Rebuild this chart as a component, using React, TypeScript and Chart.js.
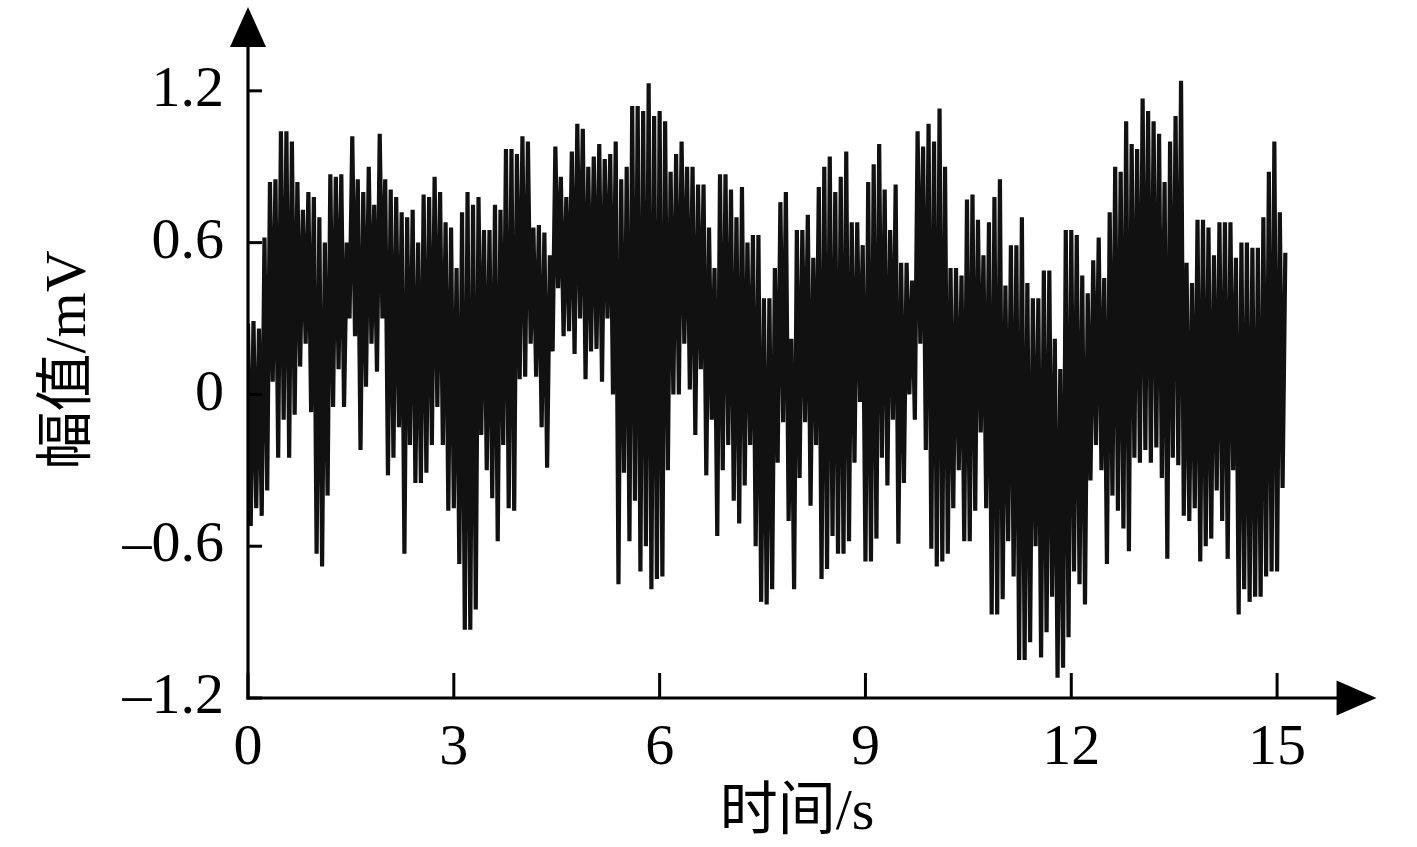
import React, { useEffect, useRef } from "react";
import { Chart, registerables } from "chart.js";

Chart.register(...registerables);

// sampling step of the recorded signal (s)
const SAMPLE_STEP = 0.04;

// amplitude samples (mV), one row per second
const amp0: number[] = [0.28, -0.52, 0.29, -0.45, 0.26, -0.48, 0.62, -0.38, 0.84, 0.05, 0.85, -0.25, 1.04, -0.1, 1.04, -0.25, 1.0, -0.08, 0.84, 0.11, 0.73, 0.2, 0.8, -0.07, 0.78];
const amp1: number[] = [-0.63, 0.7, -0.68, 0.6, -0.4, 0.87, -0.05, 0.86, 0.1, 0.87, -0.05, 0.6, 0.3, 1.02, 0.23, 0.85, -0.22, 0.8, 0.03, 0.9, 0.2, 0.75, 0.09, 1.03, 0.3];
const amp2: number[] = [0.85, -0.32, 0.81, -0.25, 0.78, -0.13, 0.72, -0.63, 0.7, -0.2, 0.73, -0.35, 0.6, -0.35, 0.79, -0.31, 0.78, -0.2, 0.86, -0.05, 0.8, -0.2, 0.68, -0.46, 0.66];
const amp3: number[] = [-0.45, 0.5, -0.67, 0.72, -0.93, 0.8, -0.93, 0.75, -0.85, 0.78, -0.16, 0.65, -0.3, 0.65, -0.41, 0.75, -0.58, 0.73, -0.2, 0.97, -0.45, 0.97, -0.46, 0.95, 0.06];
const amp4: number[] = [1.02, 0.07, 1.0, 0.2, 0.66, 0.07, 0.67, -0.13, 0.64, -0.29, 0.55, 0.17, 0.98, 0.42, 0.86, 0.23, 0.78, 0.25, 0.96, 0.16, 1.07, 0.3, 1.05, 0.06, 0.9];
const amp5: number[] = [0.17, 0.94, 0.18, 0.99, 0.05, 0.93, 0.3, 0.95, 0.0, 1.0, -0.75, 0.85, -0.31, 0.9, -0.58, 1.14, -0.42, 1.14, -0.7, 1.12, -0.6, 1.23, -0.77, 1.1, -0.73];
const amp6: number[] = [1.12, -0.72, 1.08, -0.3, 0.88, 0.0, 0.95, 0.0, 1.0, 0.2, 0.9, 0.02, 0.9, -0.16, 0.83, 0.1, 0.83, -0.32, 0.66, -0.1, 0.5, -0.56, 0.87, -0.3, 0.87];
const amp7: number[] = [-0.2, 0.81, -0.42, 0.7, -0.51, 0.82, -0.36, 0.6, -0.2, 0.63, -0.6, 0.63, -0.82, 0.38, -0.83, 0.38, -0.77, 0.5, -0.27, 0.76, -0.11, 0.8, -0.5, 0.22, -0.77];
const amp8: number[] = [0.65, -0.33, 0.65, -0.11, 0.71, -0.44, 0.54, -0.2, 0.82, -0.73, 0.9, -0.69, 0.94, -0.56, 0.8, -0.63, 0.86, -0.63, 0.96, -0.58, 0.68, -0.27, 0.68, -0.03, 0.59];
const amp9: number[] = [-0.66, 0.84, -0.66, 0.91, -0.57, 0.99, -0.25, 0.81, -0.36, 0.65, -0.1, 0.83, -0.59, 0.52, -0.35, 0.52, 0.0, 0.45, -0.1, 1.04, 0.2, 0.98, -0.22, 1.07, -0.61];
const amp10: number[] = [1.0, -0.68, 1.13, -0.66, 0.9, -0.63, 0.5, -0.45, 0.5, -0.3, 0.47, -0.58, 0.77, -0.58, 0.79, -0.46, 0.69, -0.15, 0.55, -0.45, 0.68, -0.87, 0.78, -0.87, 0.85];
const amp11: number[] = [-0.81, 0.43, -0.58, 0.59, -0.72, 0.59, -1.05, 0.7, -1.05, 0.44, -0.98, 0.38, -0.6, 0.38, -1.04, 0.49, -0.94, 0.49, -0.8, 0.22, -1.12, 0.1, -1.08, 0.65, -0.96];
const amp12: number[] = [0.65, -0.7, 0.63, -0.75, 0.47, -0.83, 0.4, -0.34, 0.53, -0.2, 0.62, -0.3, 0.46, -0.67, 0.72, -0.4, 0.9, -0.46, 0.88, -0.53, 1.08, -0.62, 0.99, -0.25, 0.97];
const amp13: number[] = [-0.27, 1.17, -0.22, 1.12, -0.27, 1.08, -0.21, 1.03, -0.33, 0.84, -0.65, 1.0, -0.25, 1.1, -0.28, 1.24, -0.48, 0.52, -0.5, 0.44, -0.45, 0.69, -0.66, 0.69, -0.6];
const amp14: number[] = [0.66, -0.57, 0.55, -0.38, 0.68, -0.5, 0.68, -0.65, 0.68, -0.3, 0.54, -0.87, 0.6, -0.77, 0.6, -0.82, 0.58, -0.8, 0.58, -0.8, 0.7, -0.72, 0.88, -0.7, 1.0];
const amp15: number[] = [-0.7, 0.72, -0.37, 0.56];

const amplitude: number[] = [
  ...amp0, ...amp1, ...amp2, ...amp3, ...amp4, ...amp5, ...amp6, ...amp7,
  ...amp8, ...amp9, ...amp10, ...amp11, ...amp12, ...amp13, ...amp14, ...amp15,
];

const xTickValues: number[] = [0, 3, 6, 9, 12, 15];
const yTickValues: number[] = [-1.2, -0.6, 0, 0.6, 1.2];
const yTickLabels: string[] = ["\u20131.2", "\u20130.6", "0", "0.6", "1.2"];
const xTitle = "时间/s";
const yTitle = "幅值/mV";

const X_MIN = 0;
const X_MAX = 16.5;
const Y_MIN = -1.2;
const Y_MAX = 1.48;

const TICK_FONT = '"Liberation Serif", "Times New Roman", serif';
const TITLE_FONT = '"Liberation Serif", "Noto Sans CJK SC", serif';

const axesPlugin = {
  id: "arrowAxes",
  afterDatasetsDraw(chart: any) {
    const { ctx, chartArea } = chart;
    const xs = chart.scales.x;
    const ys = chart.scales.y;
    const x0 = xs.getPixelForValue(X_MIN);
    const y0 = ys.getPixelForValue(Y_MIN);
    ctx.save();
    ctx.strokeStyle = "#000";
    ctx.fillStyle = "#000";
    ctx.lineWidth = 3.2;
    ctx.lineCap = "butt";

    // y axis with arrow
    const yTip = chartArea.top - 13;
    ctx.beginPath();
    ctx.moveTo(x0, y0 + 1.6);
    ctx.lineTo(x0, yTip + 30);
    ctx.stroke();
    ctx.beginPath();
    ctx.moveTo(x0, yTip);
    ctx.lineTo(x0 - 18, yTip + 40);
    ctx.lineTo(x0 + 18, yTip + 40);
    ctx.closePath();
    ctx.fill();

    // x axis with arrow
    const xTip = xs.getPixelForValue(16.45);
    ctx.beginPath();
    ctx.moveTo(x0 - 1.6, y0);
    ctx.lineTo(xTip - 30, y0);
    ctx.stroke();
    ctx.beginPath();
    ctx.moveTo(xTip, y0);
    ctx.lineTo(xTip - 40, y0 - 17.5);
    ctx.lineTo(xTip - 40, y0 + 17.5);
    ctx.closePath();
    ctx.fill();

    // inward tick marks
    ctx.lineWidth = 3;
    yTickValues.forEach((v) => {
      const py = ys.getPixelForValue(v);
      ctx.beginPath();
      ctx.moveTo(x0, py);
      ctx.lineTo(x0 + 14, py);
      ctx.stroke();
    });
    xTickValues.forEach((v) => {
      const px = xs.getPixelForValue(v);
      ctx.beginPath();
      ctx.moveTo(px, y0);
      ctx.lineTo(px, y0 - 25);
      ctx.stroke();
    });

    // axis titles
    ctx.font = "58px " + TITLE_FONT;
    ctx.textAlign = "center";
    ctx.textBaseline = "middle";
    ctx.fillText(xTitle, 797, 814);
    ctx.save();
    ctx.translate(70, 360);
    ctx.rotate(-Math.PI / 2);
    ctx.fillText(yTitle, 0, 0);
    ctx.restore();
    ctx.restore();
  },
};

export default function App() {
  const canvasRef = useRef<HTMLCanvasElement | null>(null);

  useEffect(() => {
    if (!canvasRef.current) return;
    const points = amplitude.map((v, i) => ({ x: Math.round(i * SAMPLE_STEP * 100) / 100, y: v }));
    const chart = new Chart(canvasRef.current, {
      type: "line",
      data: {
        datasets: [
          {
            data: points,
            borderColor: "#111111",
            borderWidth: 4.2,
            pointRadius: 0,
            tension: 0,
            fill: false,
            borderJoinStyle: "miter",
          } as any,
        ],
      },
      options: {
        responsive: false,
        animation: false,
        devicePixelRatio: 1,
        layout: { padding: { left: 0, right: 37, top: 20, bottom: 0 } },
        plugins: { legend: { display: false }, tooltip: { enabled: false } },
        scales: {
          x: {
            type: "linear",
            min: X_MIN,
            max: X_MAX,
            grid: { display: false, drawTicks: false },
            border: { display: false },
            afterFit: (s: any) => {
              s.height = 149;
              s.paddingLeft = 0;
              s.paddingRight = 0;
            },
            afterBuildTicks: (s: any) => {
              s.ticks = xTickValues.map((v) => ({ value: v }));
            },
            ticks: {
              autoSkip: false,
              maxRotation: 0,
              padding: 16,
              color: "#000",
              font: { family: TICK_FONT, size: 58 },
              callback: (v: any) => String(v),
            },
          },
          y: {
            type: "linear",
            min: Y_MIN,
            max: Y_MAX,
            grid: { display: false, drawTicks: false },
            border: { display: false },
            afterFit: (s: any) => {
              s.width = 248;
              s.paddingTop = 0;
              s.paddingBottom = 0;
            },
            afterBuildTicks: (s: any) => {
              s.ticks = yTickValues.map((v) => ({ value: v }));
            },
            ticks: {
              autoSkip: false,
              padding: 24,
              color: "#000",
              font: { family: TICK_FONT, size: 58 },
              callback: (v: any) => {
                const idx = yTickValues.findIndex((t) => Math.abs(t - Number(v)) < 1e-6);
                return idx >= 0 ? yTickLabels[idx] : "";
              },
            },
          },
        },
      },
      plugins: [axesPlugin],
    });
    return () => chart.destroy();
  }, []);

  return (
    <div style={{ position: "fixed", left: 0, top: 0, width: 1417, height: 847, background: "#fff" }}>
      <canvas ref={canvasRef} width={1417} height={847} style={{ display: "block" }} />
    </div>
  );
}
